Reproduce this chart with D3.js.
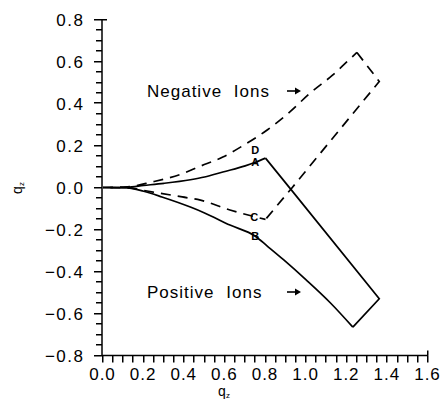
<!DOCTYPE html>
<html><head><meta charset="utf-8">
<script src="https://cdn.jsdelivr.net/npm/d3@7"></script>
<style>body{margin:0;background:#fff}svg{display:block}text{font-family:"Liberation Sans",Arial,sans-serif;fill:#000}</style>
</head><body><svg id="c" width="441" height="406"></svg>
<script>
// Positive ions (solid loop)
const posUpperX = [0, 0.12, 0.2, 0.3, 0.43, 0.5, 0.59, 0.7, 0.75, 0.8];
const posUpperY = [0, 0.002, 0.01, 0.02, 0.037, 0.05, 0.074, 0.103, 0.12, 0.14];
const posCornerX = [0.8, 0.93, 1.36, 1.23];
const posCornerY = [0.14, -0.015, -0.53, -0.665];
const posLowerX = [1.23, 1.12, 1.0, 0.89, 0.81, 0.75, 0.625, 0.5, 0.43, 0.29, 0.2, 0.12, 0];
const posLowerY = [-0.665, -0.55, -0.44, -0.345, -0.28, -0.232, -0.179, -0.121, -0.093, -0.045, -0.018, -0.002, 0];
// Negative ions (dashed loop)
const negUpperX = [0, 0.12, 0.24, 0.4, 0.47, 0.59, 0.69, 0.81, 0.92, 1.02, 1.13, 1.2, 1.25];
const negUpperY = [0, 0.003, 0.026, 0.069, 0.098, 0.145, 0.2, 0.275, 0.36, 0.45, 0.535, 0.598, 0.643];
const negCornerX = [1.25, 1.36, 0.93, 0.8];
const negCornerY = [0.643, 0.505, -0.002, -0.152];
const negLowerX = [0.8, 0.75, 0.625, 0.48, 0.39, 0.24, 0.12, 0];
const negLowerY = [-0.152, -0.14, -0.107, -0.06, -0.045, -0.021, -0.002, 0];
const xTicks = [0, 0.2, 0.4, 0.6, 0.8, 1.0, 1.2, 1.4, 1.6];
const yTicks = [-0.8, -0.6, -0.4, -0.2, 0, 0.2, 0.4, 0.6, 0.8];
const pointLabels = ["A", "B", "C", "D"];
const pointLabelX = [0.75, 0.75, 0.745, 0.75];
const pointLabelY = [0.12, -0.232, -0.14, 0.18];

const svg = d3.select("#c");
const x = d3.scaleLinear().domain([0, 1.6]).range([103, 428]);
const y = d3.scaleLinear().domain([-0.8, 0.8]).range([355.5, 19.5]);
const zip = (a, b) => a.map((v, i) => [v, b[i]]);
const line = d3.line().x(d => x(d[0])).y(d => y(d[1]));
const smooth = d3.line().x(d => x(d[0])).y(d => y(d[1])).curve(d3.curveMonotoneX);

// axis lines
svg.append("line").attr("x1", 102).attr("x2", 102).attr("y1", y(0.8)).attr("y2", y(-0.8)).attr("stroke", "#000").attr("stroke-width", 1.5);
svg.append("line").attr("x1", 102).attr("x2", x(1.6)).attr("y1", y(-0.8)).attr("y2", y(-0.8)).attr("stroke", "#000").attr("stroke-width", 1.5);

// ticks (every 0.05)
const minorX = d3.range(0, 33).map(i => i * 0.05);
const minorY = d3.range(0, 33).map(i => -0.8 + i * 0.05);
const tickG = svg.append("g").attr("fill", "#000");
tickG.selectAll("rect.tx").data(minorX).join("rect").attr("class", "tx")
  .attr("x", d => Math.round(x(d)) - 1).attr("y", y(-0.8)).attr("width", 1.5).attr("height", 7);
tickG.selectAll("rect.ty").data(minorY).join("rect").attr("class", "ty")
  .attr("x", (d, i) => i % 4 === 0 ? 94 : 96).attr("y", d => Math.round(y(d)) - 1)
  .attr("width", (d, i) => i % 4 === 0 ? 8 : 6).attr("height", 1.5);
tickG.append("rect").attr("x", 102).attr("y", Math.round(y(0.8)) - 1).attr("width", 5).attr("height", 1.5);
tickG.append("rect").attr("x", Math.round(x(1.6)) - 1).attr("y", y(-0.8) - 5).attr("width", 1.5).attr("height", 5);

const fmt = d3.format(".1f");
svg.append("g").selectAll("text").data(xTicks).join("text")
  .attr("x", d => x(d) - 0.5).attr("y", 380).attr("text-anchor", "middle")
  .attr("font-size", 17).attr("letter-spacing", 1).text(d => fmt(d));
svg.append("g").selectAll("text").data(yTicks).join("text")
  .attr("x", 84.5).attr("y", d => y(d) + 6).attr("text-anchor", "end")
  .attr("font-size", 17).attr("letter-spacing", 1.5).text(d => fmt(d).replace("-", "\u2212"));

const xl = svg.append("text").attr("x", 224).attr("y", 396).attr("text-anchor", "middle").attr("font-size", 14);
xl.append("tspan").text("q");
xl.append("tspan").attr("font-size", 8).attr("dy", 2).text("z");
const yl = svg.append("text").attr("transform", "translate(22,188) rotate(-90)").attr("text-anchor", "middle").attr("font-size", 14);
yl.append("tspan").text("q");
yl.append("tspan").attr("font-size", 8).attr("dy", 2).text("z");

// curves
const solidStyle = s => s.attr("fill", "none").attr("stroke", "#000").attr("stroke-width", 1.7);
solidStyle(svg.append("path").attr("d", smooth(zip(posUpperX, posUpperY))));
solidStyle(svg.append("path").attr("d", line(zip(posCornerX, posCornerY))));
solidStyle(svg.append("path").attr("d", smooth(zip(posLowerX, posLowerY))));
const dashStyle = s => solidStyle(s).attr("stroke-dasharray", "10,7");
dashStyle(svg.append("path").attr("d", smooth(zip(negUpperX, negUpperY))));
dashStyle(svg.append("path").attr("d", line(zip(negCornerX, negCornerY))));
dashStyle(svg.append("path").attr("d", smooth(zip(negLowerX, negLowerY))).attr("stroke-dashoffset", 4));

svg.append("g").selectAll("text").data(pointLabels).join("text")
  .attr("x", (d, i) => x(pointLabelX[i])).attr("y", (d, i) => y(pointLabelY[i]) + 4)
  .attr("text-anchor", "middle").attr("font-size", 11).attr("font-weight", "bold").text(d => d);

svg.append("text").attr("x", 147).attr("y", 97).attr("font-size", 17).attr("letter-spacing", 1).attr("word-spacing", 6).text("Negative Ions");
svg.append("text").attr("x", 147).attr("y", 298).attr("font-size", 17).attr("letter-spacing", 1).attr("word-spacing", 6).text("Positive Ions");
function arrow(x0, yy) {
  svg.append("line").attr("x1", x0).attr("x2", x0 + 11).attr("y1", yy).attr("y2", yy).attr("stroke", "#000").attr("stroke-width", 1.6);
  svg.append("path").attr("d", `M${x0 + 14},${yy} L${x0 + 8},${yy - 3.5} L${x0 + 8},${yy + 3.5} Z`).attr("fill", "#000");
}
arrow(287, 91);
arrow(287, 292);
</script></body></html>
